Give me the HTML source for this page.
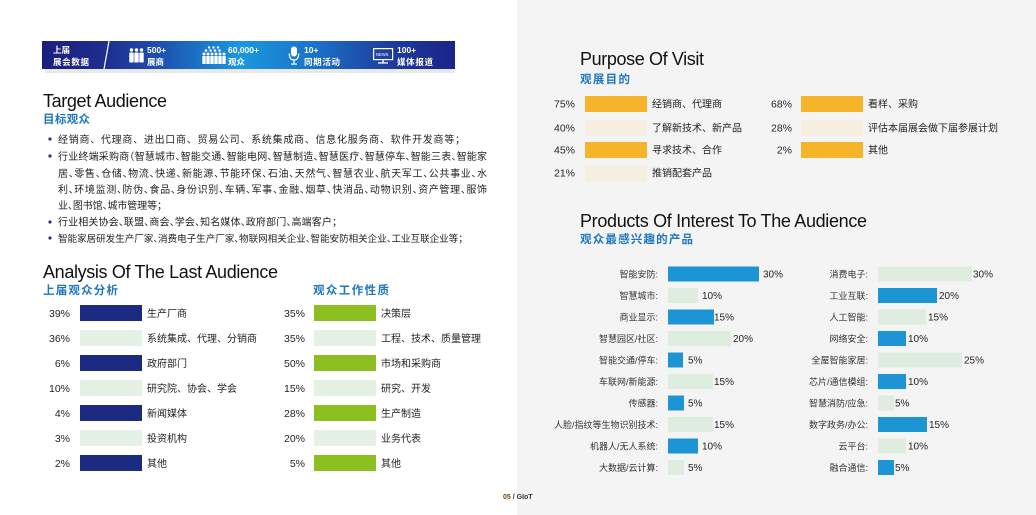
<!DOCTYPE html>
<html>
<head>
<meta charset="utf-8">
<style>
html,body{margin:0;padding:0;background:#fff;}
body{width:1036px;height:515px;overflow:hidden;}
svg{display:block;}
text{font-family:"Liberation Sans","Noto Sans CJK SC",sans-serif;}
.halt text{font-feature-settings:"halt" 1;}
</style>
</head>
<body>
<svg width="1036" height="515" viewBox="0 0 1036 515" xmlns="http://www.w3.org/2000/svg">
<defs>
<linearGradient id="bg" x1="0" y1="0" x2="1" y2="0">
<stop offset="0" stop-color="#1b1f7c"/>
<stop offset="0.15" stop-color="#1e2d8f"/>
<stop offset="0.30" stop-color="#1d55b2"/>
<stop offset="0.48" stop-color="#1a98de"/>
<stop offset="0.66" stop-color="#1c72c8"/>
<stop offset="0.85" stop-color="#1d3a9c"/>
<stop offset="1" stop-color="#1b2488"/>
</linearGradient>
</defs>
<rect x="0" y="0" width="1036" height="515" fill="#ffffff"/>
<rect x="517" y="0" width="519" height="515" fill="#f4f4f4"/>

<!-- Banner -->
<rect x="45" y="68" width="410" height="5" fill="#e8e8e8"/>
<rect x="42" y="41" width="413" height="28" fill="url(#bg)"/>
<g fill="#ffffff" font-weight="bold">
<text x="53" y="53" font-size="8.5">上届</text>
<text x="53" y="65" font-size="8.5" textLength="36">展会数据</text>
<line x1="109" y1="41" x2="104" y2="69" stroke="#ffffff" stroke-width="1.2"/>
<circle cx="131.5" cy="50" r="1.7"/><circle cx="136.5" cy="50" r="1.7"/><circle cx="141.5" cy="50" r="1.7"/>
<rect x="129.3" y="52.5" width="4.4" height="10" rx="0.8"/>
<rect x="134.3" y="52.5" width="4.4" height="10" rx="0.8"/>
<rect x="139.3" y="52.5" width="4.4" height="10" rx="0.8"/>
<text x="147" y="53" font-size="8.5">500+</text>
<text x="147" y="65" font-size="8.5">展商</text>
<circle cx="209" cy="47.5" r="1.2"/><circle cx="213.5" cy="47.5" r="1.2"/><circle cx="218" cy="47.5" r="1.2"/>
<circle cx="206" cy="50.5" r="1.3"/><circle cx="210.5" cy="50.5" r="1.3"/><circle cx="215" cy="50.5" r="1.3"/><circle cx="219.5" cy="50.5" r="1.3"/>
<circle cx="204" cy="54" r="1.5"/><circle cx="208" cy="54" r="1.5"/><circle cx="212" cy="54" r="1.5"/><circle cx="216" cy="54" r="1.5"/><circle cx="220" cy="54" r="1.5"/><circle cx="224" cy="54" r="1.5"/>
<rect x="202.3" y="56" width="3.4" height="8"/><rect x="206.3" y="56" width="3.4" height="8"/><rect x="210.3" y="56" width="3.4" height="8"/><rect x="214.3" y="56" width="3.4" height="8"/><rect x="218.3" y="56" width="3.4" height="8"/><rect x="222.3" y="56" width="3.4" height="8"/>
<text x="228" y="53" font-size="8.5">60,000+</text>
<text x="228" y="65" font-size="8.5">观众</text>
<rect x="291" y="46.5" width="6" height="10" rx="3"/>
<path d="M289.3 53.5 Q289.3 60 294 60 Q298.7 60 298.7 53.5" fill="none" stroke="#ffffff" stroke-width="1.2"/>
<rect x="293.4" y="60" width="1.2" height="4"/>
<rect x="291" y="63.5" width="6" height="1.2"/>
<text x="304" y="53" font-size="8.5">10+</text>
<text x="304" y="65" font-size="8.5" textLength="36">同期活动</text>
<rect x="373.6" y="48.6" width="19" height="11" fill="none" stroke="#ffffff" stroke-width="1.2"/>
<text x="376" y="56" font-size="4.2" font-weight="normal">NEWS</text>
<rect x="382.4" y="60" width="1.4" height="2.5"/>
<rect x="378" y="62.3" width="10" height="1.3"/>
<text x="397" y="53" font-size="8.5">100+</text>
<text x="397" y="65" font-size="8.5" textLength="36">媒体报道</text>
</g>

<!-- Target Audience -->
<text x="43" y="107" font-size="18" fill="#111" textLength="124">Target Audience</text>
<text x="43" y="123" font-size="11.5" font-weight="bold" fill="#1f77c0" textLength="47">目标观众</text>
<g fill="#2a3580">
<circle cx="50" cy="139" r="1.6"/><circle cx="50" cy="156" r="1.6"/><circle cx="50" cy="222" r="1.6"/><circle cx="50" cy="238" r="1.6"/>
</g>
<text x="58" y="143" font-size="10" fill="#231f20" textLength="407">经销商、代理商、进出口商、贸易公司、系统集成商、信息化服务商、软件开发商等；</text>
<g class="halt" font-size="10" fill="#231f20">
<text x="58" y="160" textLength="429">行业终端采购商（智慧城市、智能交通、智能电网、智慧制造、智慧医疗、智慧停车、智能三表、智能家</text>
<text x="58" y="177" textLength="429">居、零售、仓储、物流、快递、新能源、节能环保、石油、天然气、智慧农业、航天军工、公共事业、水</text>
<text x="58" y="193" textLength="429">利、环境监测、防伪、食品、身份识别、车辆、军事、金融、烟草、快消品、动物识别、资产管理、服饰</text>
<text x="58" y="209" textLength="104">业、图书馆、城市管理等；</text>
<text x="58" y="225.5" textLength="279">行业相关协会、联盟、商会、学会、知名媒体、政府部门、高端客户；</text>
<text x="58" y="242" font-size="9.6" textLength="405">智能家居研发生产厂家、消费电子生产厂家、物联网相关企业、智能安防相关企业、工业互联企业等；</text>
</g>

<!-- Analysis -->
<text x="43" y="278" font-size="18" fill="#111" textLength="235">Analysis Of The Last Audience</text>
<text x="43" y="294" font-size="11.5" font-weight="bold" fill="#1f77c0" textLength="75">上届观众分析</text>
<text x="313" y="294" font-size="11.5" font-weight="bold" fill="#1f77c0" textLength="76">观众工作性质</text>

<g>
<rect x="80" y="305" width="62" height="16" fill="#1c2a82"/>
<rect x="80" y="330" width="62" height="16" fill="#e4f1e4"/>
<rect x="80" y="355" width="62" height="16" fill="#1c2a82"/>
<rect x="80" y="380" width="62" height="16" fill="#e4f1e4"/>
<rect x="80" y="405" width="62" height="16" fill="#1c2a82"/>
<rect x="80" y="430" width="62" height="16" fill="#e4f1e4"/>
<rect x="80" y="455" width="62" height="16" fill="#1c2a82"/>
<rect x="314" y="305" width="62" height="16" fill="#8cc021"/>
<rect x="314" y="330" width="62" height="16" fill="#e4f1e4"/>
<rect x="314" y="355" width="62" height="16" fill="#8cc021"/>
<rect x="314" y="380" width="62" height="16" fill="#e4f1e4"/>
<rect x="314" y="405" width="62" height="16" fill="#8cc021"/>
<rect x="314" y="430" width="62" height="16" fill="#e4f1e4"/>
<rect x="314" y="455" width="62" height="16" fill="#8cc021"/>
</g>
<g font-size="10.5" fill="#231f20" text-anchor="end">
<text x="70" y="317">39%</text><text x="70" y="342">36%</text><text x="70" y="367">6%</text><text x="70" y="392">10%</text><text x="70" y="417">4%</text><text x="70" y="442">3%</text><text x="70" y="467">2%</text>
<text x="305" y="317">35%</text><text x="305" y="342">35%</text><text x="305" y="367">50%</text><text x="305" y="392">15%</text><text x="305" y="417">28%</text><text x="305" y="442">20%</text><text x="305" y="467">5%</text>
</g>
<g font-size="10" fill="#231f20">
<text x="147" y="317">生产厂商</text><text x="147" y="342">系统集成、代理、分销商</text><text x="147" y="367">政府部门</text><text x="147" y="392">研究院、协会、学会</text><text x="147" y="417">新闻媒体</text><text x="147" y="442">投资机构</text><text x="147" y="467">其他</text>
<text x="381" y="317">决策层</text><text x="381" y="342">工程、技术、质量管理</text><text x="381" y="367">市场和采购商</text><text x="381" y="392">研究、开发</text><text x="381" y="417">生产制造</text><text x="381" y="442">业务代表</text><text x="381" y="467">其他</text>
</g>

<!-- Purpose of Visit -->
<text x="580" y="65" font-size="18" fill="#111" textLength="124">Purpose Of Visit</text>
<text x="580" y="83" font-size="11.5" font-weight="bold" fill="#1f77c0" textLength="50">观展目的</text>
<g>
<rect x="585" y="96" width="62" height="16" fill="#f6b42b"/>
<rect x="585" y="120" width="62" height="16" fill="#f6efe1"/>
<rect x="585" y="142" width="62" height="16" fill="#f6b42b"/>
<rect x="585" y="165" width="62" height="16" fill="#f6efe1"/>
<rect x="801" y="96" width="62" height="16" fill="#f6b42b"/>
<rect x="801" y="120" width="62" height="16" fill="#f6efe1"/>
<rect x="801" y="142" width="62" height="16" fill="#f6b42b"/>
</g>
<g font-size="10.5" fill="#231f20" text-anchor="end">
<text x="575" y="107.5">75%</text><text x="575" y="131.5">40%</text><text x="575" y="153.5">45%</text><text x="575" y="176.5">21%</text>
<text x="792" y="107.5">68%</text><text x="792" y="131.5">28%</text><text x="792" y="153.5">2%</text>
</g>
<g font-size="10" fill="#231f20">
<text x="652" y="107.5">经销商、代理商</text><text x="652" y="131.5">了解新技术、新产品</text><text x="652" y="153.5">寻求技术、合作</text><text x="652" y="176.5">推销配套产品</text>
<text x="868" y="107.5">看样、采购</text><text x="868" y="131.5">评估本届展会做下届参展计划</text><text x="868" y="153.5">其他</text>
</g>

<!-- Products -->
<text x="580" y="227" font-size="18" fill="#111" textLength="287">Products Of Interest To The Audience</text>
<text x="580" y="243" font-size="11.5" font-weight="bold" fill="#1f77c0" textLength="113">观众最感兴趣的产品</text>
<g>
<rect x="668" y="266.5" width="91" height="15" fill="#1d95d5"/>
<rect x="668" y="288" width="30" height="15" fill="#dfece0"/>
<rect x="668" y="309.5" width="46" height="15" fill="#1d95d5"/>
<rect x="668" y="331" width="63" height="15" fill="#dfece0"/>
<rect x="668" y="352.5" width="15" height="15" fill="#1d95d5"/>
<rect x="668" y="374" width="45" height="15" fill="#dfece0"/>
<rect x="668" y="395.5" width="16" height="15" fill="#1d95d5"/>
<rect x="668" y="417" width="45" height="15" fill="#dfece0"/>
<rect x="668" y="438.5" width="30" height="15" fill="#1d95d5"/>
<rect x="668" y="460" width="16" height="15" fill="#dfece0"/>

<rect x="878" y="266.5" width="94" height="15" fill="#dfece0"/>
<rect x="878" y="288" width="59" height="15" fill="#1d95d5"/>
<rect x="878" y="309.5" width="48" height="15" fill="#dfece0"/>
<rect x="878" y="331" width="28" height="15" fill="#1d95d5"/>
<rect x="878" y="352.5" width="84" height="15" fill="#dfece0"/>
<rect x="878" y="374" width="28" height="15" fill="#1d95d5"/>
<rect x="878" y="395.5" width="16" height="15" fill="#dfece0"/>
<rect x="878" y="417" width="49" height="15" fill="#1d95d5"/>
<rect x="878" y="438.5" width="28" height="15" fill="#dfece0"/>
<rect x="878" y="460" width="16" height="15" fill="#1d95d5"/>
</g>
<g font-size="9" fill="#333" text-anchor="end">
<text x="658" y="277.5">智能安防:</text>
<text x="658" y="299">智慧城市:</text>
<text x="658" y="320.5">商业显示:</text>
<text x="658" y="342">智慧园区/社区:</text>
<text x="658" y="363.5">智能交通/停车:</text>
<text x="658" y="385">车联网/新能源:</text>
<text x="658" y="406.5">传感器:</text>
<text x="658" y="428">人脸/指纹等生物识别技术:</text>
<text x="658" y="449.5">机器人/无人系统:</text>
<text x="658" y="471">大数据/云计算:</text>
<text x="868" y="277.5">消费电子:</text>
<text x="868" y="299">工业互联:</text>
<text x="868" y="320.5">人工智能:</text>
<text x="868" y="342">网络安全:</text>
<text x="868" y="363.5">全屋智能家居:</text>
<text x="868" y="385">芯片/通信模组:</text>
<text x="868" y="406.5">智慧消防/应急:</text>
<text x="868" y="428">数字政务/办公:</text>
<text x="868" y="449.5">云平台:</text>
<text x="868" y="471">融合通信:</text>
</g>
<g font-size="10" fill="#231f20">
<text x="763" y="277.6">30%</text>
<text x="702" y="299.1">10%</text>
<text x="714" y="320.6">15%</text>
<text x="733" y="342.1">20%</text>
<text x="688" y="363.6">5%</text>
<text x="714" y="385.1">15%</text>
<text x="688" y="406.6">5%</text>
<text x="714" y="428.1">15%</text>
<text x="702" y="449.6">10%</text>
<text x="688" y="471.1">5%</text>
<text x="973" y="277.6">30%</text>
<text x="939" y="299.1">20%</text>
<text x="928" y="320.6">15%</text>
<text x="908" y="342.1">10%</text>
<text x="964" y="363.6">25%</text>
<text x="908" y="385.1">10%</text>
<text x="895" y="406.6">5%</text>
<text x="929" y="428.1">15%</text>
<text x="908" y="449.6">10%</text>
<text x="895" y="471.1">5%</text>
</g>

<!-- Footer -->
<text x="503" y="499" font-size="7" font-weight="bold" fill="#333"><tspan fill="#6b4520">05</tspan> / GIoT</text>
</svg>
</body>
</html>
